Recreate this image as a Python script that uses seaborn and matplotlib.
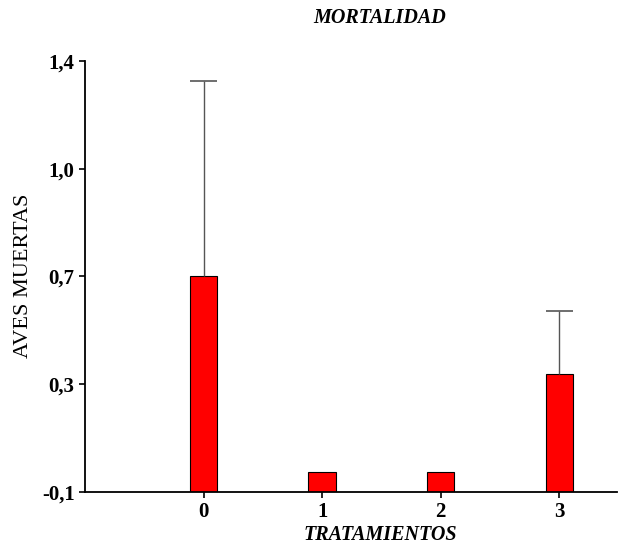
import matplotlib
matplotlib.use("Agg")
import matplotlib.pyplot as plt
import numpy as np
import pandas as pd
import seaborn as sns

TREATMENTS = ["0", "1", "2", "3"]
DEAD_BIRDS = [0.65, -0.03, -0.03, 0.31]
ERROR_UP = [0.68, 0.0, 0.0, 0.22]
Y_TICK_LABELS = ["-0,1", "0,3", "0,7", "1,0", "1,4"]

BAR_WIDTH = 0.23


def main():
    sns.set_theme(style="ticks", rc={
        "text.color": "black",
        "axes.labelcolor": "black",
        "xtick.color": "black",
        "ytick.color": "black",
    })
    plt.rcParams["font.family"] = ["Liberation Serif", "DejaVu Serif"]

    data = pd.DataFrame({"tratamiento": TREATMENTS, "aves": DEAD_BIRDS})

    fig = plt.figure(figsize=(6.19, 5.46), dpi=100)
    ax = fig.add_axes([0.1373, 0.0989, 0.86, 0.7894])

    sns.barplot(
        data=data,
        x="tratamiento",
        y="aves",
        order=TREATMENTS,
        color="#ff0000",
        saturation=1,
        width=BAR_WIDTH,
        errorbar=None,
        edgecolor="black",
        linewidth=0.8,
        ax=ax,
    )
    # bars start at the bottom of the axis, not at zero
    for patch, val in zip(ax.patches, DEAD_BIRDS):
        patch.set_y(-0.1)
        patch.set_height(val + 0.1)

    # upper error bars only, no cap at the bar top
    pos = np.arange(len(TREATMENTS))
    mean = np.array(DEAD_BIRDS)
    err = np.array(ERROR_UP)
    has_err = err > 0
    ax.vlines(pos[has_err], mean[has_err], (mean + err)[has_err],
              color="#555555", linewidth=1, zorder=1)
    ax.hlines((mean + err)[has_err], pos[has_err] - BAR_WIDTH / 2,
              pos[has_err] + BAR_WIDTH / 2, color="#555555", linewidth=1.2, zorder=1)

    ax.set_xlim(-1.0, 3.49)
    ax.set_ylim(-0.1, 1.4)
    ax.set_yticks(np.linspace(-0.1, 1.4, len(Y_TICK_LABELS)))
    ax.set_yticklabels(Y_TICK_LABELS)
    ax.tick_params(axis="both", labelsize=15, width=1.2, length=4, color="black")
    for lbl in ax.get_xticklabels() + ax.get_yticklabels():
        lbl.set_fontweight("bold")
    ax.set_xlabel("")
    ax.set_ylabel("")
    for side in ["top", "right"]:
        ax.spines[side].set_visible(False)
    for side in ["left", "bottom"]:
        ax.spines[side].set_linewidth(1.3)
        ax.spines[side].set_color("black")

    fig.text(0.614, 0.967, "MORTALIDAD", ha="center", va="center",
             fontsize=14.5, fontweight="bold", fontstyle="italic")
    fig.text(0.614, 0.02, "TRATAMIENTOS", ha="center", va="center",
             fontsize=14.5, fontweight="bold", fontstyle="italic")
    fig.text(0.038, 0.4945, "AVES MUERTAS", ha="center", va="center",
             rotation=90, fontsize=16)

    fig.savefig("out.png", dpi=100)
    plt.close(fig)


if __name__ == "__main__":
    main()
